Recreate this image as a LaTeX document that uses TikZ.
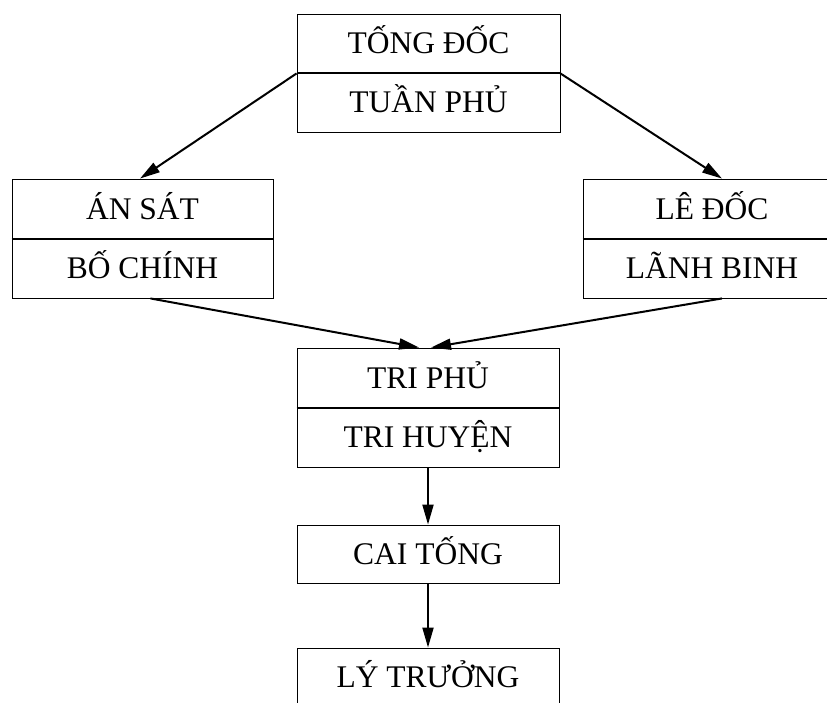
\documentclass[tikz,border=0pt]{standalone}
\usepackage{fontspec}
\setmainfont{Liberation Serif}
\usetikzlibrary{arrows.meta}
\begin{document}
\begin{tikzpicture}[x=1pt,y=-1pt,
  txt/.style={inner sep=0pt, font=\fontsize{31.5}{36}\selectfont, text height=20.5pt, text depth=0pt},
  cell/.style={txt, draw=black, line width=0.9pt, rectangle},
  divider/.style={line width=2pt},
  arr/.style={line width=2pt, -{Triangle[length=20pt,width=11pt]}}]
\useasboundingbox[fill=white] (0,0) rectangle (827,702);
% top box
\node[cell, minimum width=263pt, minimum height=59pt] (tong) at (428.5,43.5) {TỐNG ĐỐC};
\node[cell, minimum width=263pt, minimum height=59pt] (tuan) at (428.5,102.5) {TUẦN PHỦ};
\draw[divider] (tong.south west) -- (tong.south east);
% left box
\node[cell, minimum width=261pt, minimum height=60pt] (ansat) at (142.5,209) {ÁN SÁT};
\node[cell, minimum width=261pt, minimum height=59pt] (bochinh) at (142.5,268.5) {BỐ CHÍNH};
\draw[divider] (ansat.south west) -- (ansat.south east);
% right box
\node[cell, minimum width=258pt, minimum height=60pt] (ledoc) at (712,209) {LÊ ĐỐC};
\node[cell, minimum width=258pt, minimum height=59pt] (lanh) at (712,268.5) {LÃNH BINH};
\draw[divider] (ledoc.south west) -- (ledoc.south east);
% middle box
\node[cell, minimum width=262pt, minimum height=60pt] (triphu) at (428,378) {TRI PHỦ};
\node[cell, minimum width=262pt, minimum height=59pt] (trihuyen) at (428,437.5) {TRI HUYỆN};
\draw[divider] (triphu.south west) -- (triphu.south east);
% lower boxes
\node[cell, minimum width=262pt, minimum height=58pt] (caitong) at (428,554) {CAI TỐNG};
\node[cell, minimum width=262pt, minimum height=62pt] (lytruong) at (428,679) {};
\node[txt] (lytext) at (428,677) {LÝ TRƯỞNG};
% arrows
\draw[arr] (tong.south west) -- ([xshift=-2.5pt]ansat.north);
\draw[arr] (tong.south east) -- ([xshift=10pt]ledoc.north);
\draw[arr] ([xshift=8pt]bochinh.south) -- ([xshift=-9pt]triphu.north);
\draw[arr] ([xshift=10pt]lanh.south) -- ([xshift=3pt]triphu.north);
\draw[arr] (trihuyen.south) -- (caitong.north);
\draw[arr] (caitong.south) -- (lytruong.north);
\end{tikzpicture}
\end{document}
